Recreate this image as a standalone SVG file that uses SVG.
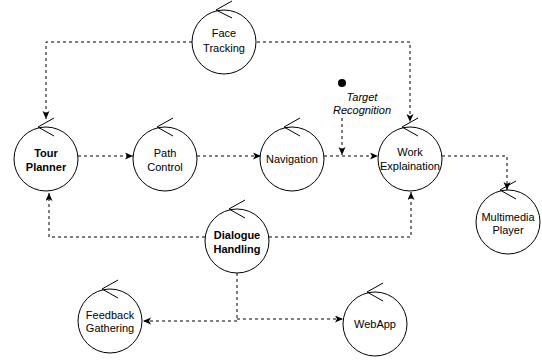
<svg xmlns="http://www.w3.org/2000/svg" width="542" height="360" viewBox="0 0 542 360">
<style>
.c{fill:#fff;stroke:#000;stroke-width:1}
.m{fill:none;stroke:#000;stroke-width:1}
.t{font-family:"Liberation Sans",Arial,sans-serif;font-size:11px;fill:#000;text-anchor:middle}
.b{font-weight:bold}
.i{font-style:italic}
.e{fill:none;stroke:#000;stroke-width:1;stroke-dasharray:3 3}
</style>
<defs>
<marker id="a" markerWidth="9" markerHeight="8" refX="8" refY="3.5" orient="auto" markerUnits="userSpaceOnUse">
<path d="M0,0 L8,3.5 L0,7 L2,3.5 z" fill="#000"/>
</marker>
</defs>
<rect width="542" height="360" fill="#fff"/>
<g id="connectors">
<path class="e" d="M192,42 H46 V119" marker-end="url(#a)"/>
<path class="e" d="M257,42 H410 V122" marker-end="url(#a)"/>
<path class="e" d="M78,156 H133" marker-end="url(#a)"/>
<path class="e" d="M197,156 H261" marker-end="url(#a)"/>
<path class="e" d="M324,156 H378" marker-end="url(#a)"/>
<path class="e" d="M342,118 V155" marker-end="url(#a)"/>
<path class="e" d="M442,156 H507 V190" marker-end="url(#a)"/>
<path class="e" d="M205,237 H49 V193" marker-end="url(#a)"/>
<path class="e" d="M269,237 H411 V192" marker-end="url(#a)"/>
<path class="e" d="M237,273 V321 H143" marker-end="url(#a)"/>
<path class="e" d="M237,319 H343" marker-end="url(#a)"/>
</g>
<g id="target">
<circle cx="342" cy="83" r="4" fill="#000"/>
<text class="t i" x="362" y="101">Target</text>
<text class="t i" x="362" y="114">Recognition</text>
</g>
<g id="face">
<circle class="c" cx="224" cy="42" r="32"/>
<path class="m" d="M232,1 L216,10 L232,18"/>
<text class="t" x="224" y="37">Face</text>
<text class="t" x="224" y="52">Tracking</text>
</g>
<g id="tour">
<circle class="c" cx="46" cy="159" r="32"/>
<path class="m" d="M54,118 L38,127 L54,136"/>
<text class="t b" x="46" y="157">Tour</text>
<text class="t b" x="46" y="171">Planner</text>
</g>
<g id="path">
<circle class="c" cx="165" cy="159" r="32"/>
<path class="m" d="M173,118 L157,127 L173,136"/>
<text class="t" x="165" y="157">Path</text>
<text class="t" x="165" y="171">Control</text>
</g>
<g id="nav">
<circle class="c" cx="292" cy="159" r="32"/>
<path class="m" d="M300,118 L284,127 L300,136"/>
<text class="t" x="292" y="163">Navigation</text>
</g>
<g id="work">
<circle class="c" cx="410" cy="159" r="32"/>
<path class="m" d="M418,118 L402,127 L418,136"/>
<text class="t" x="410" y="156">Work</text>
<text class="t" x="410" y="170">Explaination</text>
</g>
<g id="multimedia">
<circle class="c" cx="508" cy="222" r="32"/>
<path class="m" d="M516,181 L500,190 L516,199"/>
<text class="t" x="508" y="221">Multimedia</text>
<text class="t" x="508" y="234">Player</text>
</g>
<g id="dialogue">
<circle class="c" cx="237" cy="241" r="32"/>
<path class="m" d="M245,200 L229,209 L245,218"/>
<text class="t b" x="237" y="239">Dialogue</text>
<text class="t b" x="237" y="253">Handling</text>
</g>
<g id="feedback">
<circle class="c" cx="110" cy="321" r="32"/>
<path class="m" d="M118,280 L102,289 L118,298"/>
<text class="t" x="110" y="319">Feedback</text>
<text class="t" x="110" y="332">Gathering</text>
</g>
<g id="webapp">
<circle class="c" cx="375" cy="324" r="32"/>
<path class="m" d="M383,283 L367,292 L383,301"/>
<text class="t" x="375" y="328">WebApp</text>
</g>
</svg>
